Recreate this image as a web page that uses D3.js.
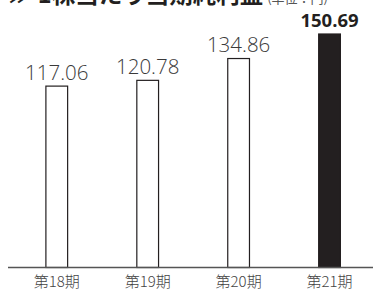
<!DOCTYPE html>
<html><head><meta charset="utf-8">
<script src="https://cdn.jsdelivr.net/npm/d3@7"></script>
<style>body{margin:0;background:#fff}svg{display:block}</style>
</head><body>
<script>
const categories = ["第18期", "第19期", "第20期", "第21期"];
const values = [117.06, 120.78, 134.86, 150.69];
const valueLabels = ["117.06", "120.78", "134.86", "150.69"];
const title = "≫ 1株当たり当期純利益";
const unit = "(単位：円)";

const W = 373, H = 290;
const svg = d3.select("body").append("svg").attr("width", W).attr("height", H);
const font = "'Noto Sans CJK JP','Noto Sans',sans-serif";

const x = d3.scaleBand().domain(categories).range([11.3, 375]).paddingInner(0.75).paddingOuter(0.375);
const y = d3.scaleLinear().domain([0, 150.69]).range([267.5, 34]);

svg.append("text").attr("x", 9).attr("y", 3).attr("font-family", font).attr("font-weight", 700)
  .attr("font-size", 23.5).attr("fill", "#231f20").text(title)
  .append("tspan").attr("font-weight", 400).attr("font-size", 13).attr("fill", "#555").attr("dx", 4).text(unit);

const last = categories.length - 1;
svg.selectAll("rect.bar").data(values).join("rect").attr("class", "bar")
  .attr("x", (d, i) => x(categories[i]) + 0.5)
  .attr("y", d => y(d))
  .attr("width", x.bandwidth() - 1)
  .attr("height", d => y(0) - y(d))
  .attr("fill", (d, i) => i === last ? "#231f20" : "#fff")
  .attr("stroke", "#231f20").attr("stroke-width", 1.2);

svg.selectAll("text.val").data(values).join("text").attr("class", "val")
  .attr("x", (d, i) => x(categories[i]) + x.bandwidth() / 2)
  .attr("y", (d, i) => y(d) - (i === last ? 7.5 : 6.5))
  .attr("text-anchor", "middle")
  .attr("font-family", "'Open Sans','Noto Sans',sans-serif")
  .attr("font-weight", (d, i) => i === last ? 700 : 300)
  .attr("font-size", (d, i) => i === last ? 18.5 : 20.5)
  .attr("fill", (d, i) => i === last ? "#231f20" : "#3a3a3a")
  .text((d, i) => valueLabels[i]);

const axis = d3.axisBottom(x).tickSize(0).tickPadding(9);
const g = svg.append("g").attr("transform", `translate(0,${y(0)})`).call(axis);
g.select(".domain").attr("d", `M8,0H373`).attr("stroke", "#555").attr("stroke-width", 1.5);
g.selectAll("text").attr("font-family", "'Noto Sans CJK JP',sans-serif").attr("font-weight", 300)
  .attr("font-size", 15).attr("fill", "#444");
</script>
</body></html>
